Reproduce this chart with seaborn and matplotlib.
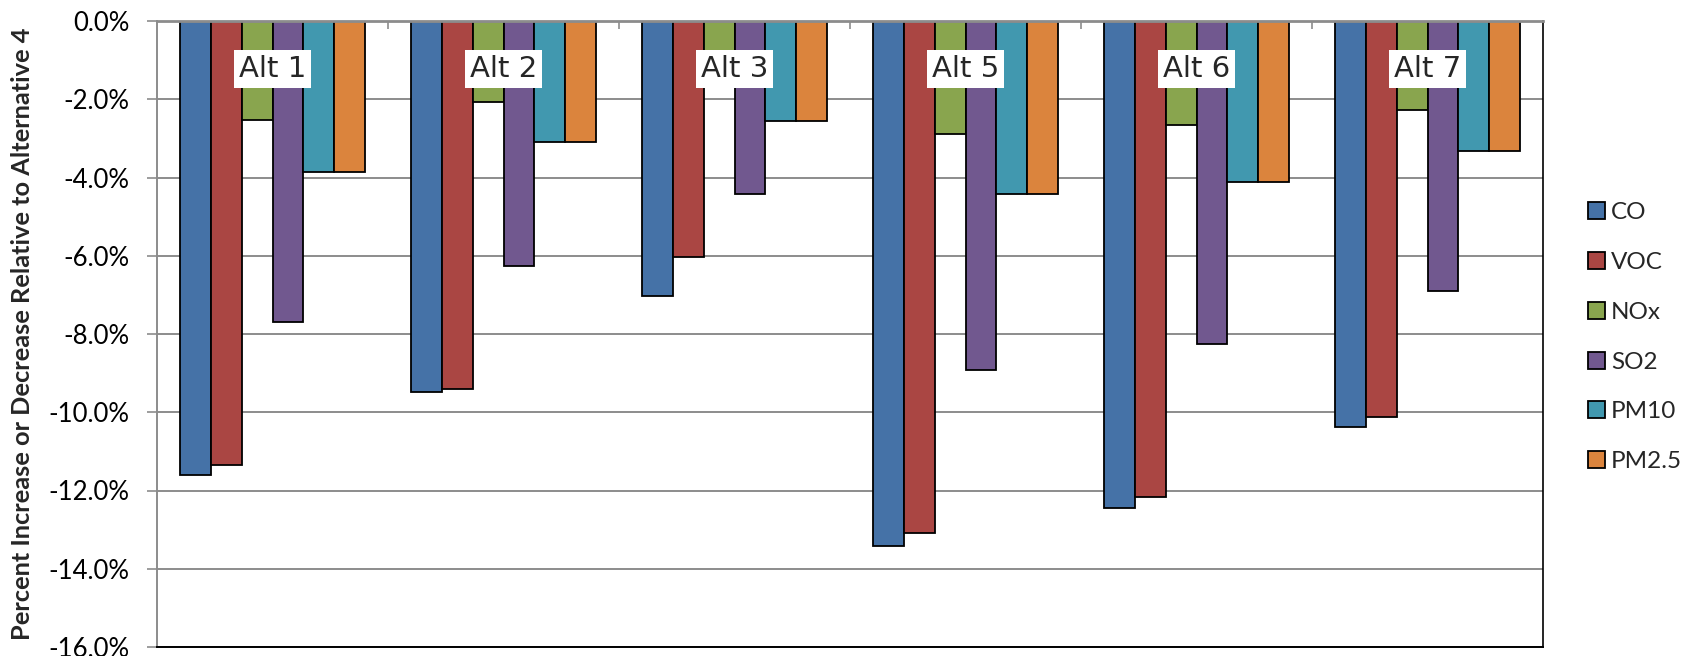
import matplotlib
matplotlib.use("Agg")
import matplotlib.pyplot as plt
from matplotlib.ticker import FixedLocator, FuncFormatter
import seaborn as sns
import pandas as pd

# Emission change of each alternative relative to Alternative 4 (percent)
alternatives = ["Alt 1", "Alt 2", "Alt 3", "Alt 5", "Alt 6", "Alt 7"]
pollutants = ["CO", "VOC", "NOx", "SO2", "PM10", "PM2.5"]
co = [-11.60, -9.48, -7.03, -13.43, -12.46, -10.37]
voc = [-11.35, -9.41, -6.04, -13.09, -12.17, -10.13]
nox = [-2.53, -2.06, -1.60, -2.90, -2.65, -2.27]
so2 = [-7.70, -6.25, -4.41, -8.91, -8.25, -6.89]
pm10 = [-3.85, -3.10, -2.55, -4.43, -4.12, -3.31]
pm25 = [-3.85, -3.10, -2.55, -4.43, -4.12, -3.31]
y_ticks = [0, -2, -4, -6, -8, -10, -12, -14, -16]

colors = ["#4572A7", "#AA4643", "#89A54E", "#71588F", "#4198AF", "#DB843D"]

series = dict(zip(pollutants, [co, voc, nox, so2, pm10, pm25]))
df = pd.DataFrame(
    [(alt, p, series[p][i]) for p in pollutants for i, alt in enumerate(alternatives)],
    columns=["Alternative", "Pollutant", "Change"],
)

sns.set_style("white")
plt.rcParams["font.family"] = ["Lato", "DejaVu Sans"]

fig = plt.figure(figsize=(16.94, 6.56), dpi=100)
ax = fig.add_axes([157 / 1694, 1 - 647 / 656, 1386 / 1694, 626 / 656])

sns.barplot(
    data=df, x="Alternative", y="Change", hue="Pollutant",
    order=alternatives, hue_order=pollutants, palette=colors,
    width=0.8, edgecolor="black", linewidth=1.3, saturation=1,
    errorbar=None, ax=ax,
)

ax.set_ylim(-16, 0)
ax.set_xlim(-0.5, len(alternatives) - 0.5)
ax.yaxis.set_major_locator(FixedLocator(y_ticks))
ax.yaxis.set_major_formatter(FuncFormatter(lambda v, _: f"{v:.1f}%"))
ax.grid(axis="y", color="#8c8c8c", linewidth=1.4)
ax.set_axisbelow(True)

# category axis sits along the zero line at the top
ax.set_xticks([])
ax.set_xticks([i + 0.5 for i in range(len(alternatives) - 1)], minor=True)
ax.tick_params(axis="x", which="minor", top=True, bottom=False, direction="in",
               length=6, width=1.2, color="#8c8c8c")
ax.set_xlabel("")

ax.tick_params(axis="y", which="major", left=True, direction="out", length=7,
               width=1.2, color="#8c8c8c", pad=13, labelsize=18.5, labelcolor="black")

for side, col, lw in [("top", "#8c8c8c", 2.0), ("left", "#8c8c8c", 1.4),
                      ("bottom", "black", 1.4), ("right", "black", 1.2)]:
    ax.spines[side].set_visible(True)
    ax.spines[side].set_color(col)
    ax.spines[side].set_linewidth(lw)

ax.set_ylabel("Percent Increase or Decrease Relative to Alternative 4",
              fontsize=18.3, fontweight="bold")
ax.yaxis.set_label_coords(-0.089, 0.5)

for i, alt in enumerate(alternatives):
    ax.text(i, -1.22, alt, ha="center", va="center", fontsize=21,
            family="DejaVu Sans", zorder=10,
            bbox=dict(facecolor="white", edgecolor="none", pad=3.5))

ax.legend_.remove()
handles = [plt.Rectangle((0, 0), 1, 1, facecolor=c, edgecolor="black", linewidth=1.3)
           for c in colors]
fig.legend(handles, pollutants, loc="center left", bbox_to_anchor=(1588 / 1694, 0.486),
           frameon=False, fontsize=17.5, handlelength=0.7, handleheight=0.7,
           handletextpad=0.25, labelspacing=1.18, borderpad=0, borderaxespad=0)

fig.savefig("out.png", dpi=100)
